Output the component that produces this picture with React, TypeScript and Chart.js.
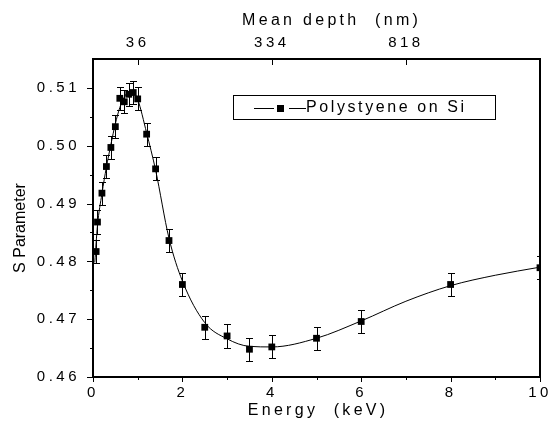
import React, { useEffect, useRef } from 'react';
import { Chart, registerables } from 'chart.js';
Chart.register(...registerables);

// Measured data (energy in keV, S parameter, error)
const energies = [0.07, 0.1, 0.2, 0.3, 0.4, 0.5, 0.6, 0.7, 0.8, 0.9, 1.0, 1.2, 1.4, 1.7, 2.0, 2.5, 3.0, 3.5, 4.0, 5.0, 6.0, 8.0, 10.0];
const sValues = [0.4817, 0.4868, 0.4918, 0.4964, 0.4997, 0.5033, 0.5082, 0.5076, 0.5089, 0.5092, 0.5081, 0.502, 0.496, 0.4836, 0.476, 0.4686, 0.4671, 0.4648, 0.4652, 0.4667, 0.4696, 0.476, 0.4789];
const sErrors = [0.002, 0.002, 0.002, 0.002, 0.002, 0.002, 0.002, 0.002, 0.002, 0.002, 0.002, 0.002, 0.002, 0.002, 0.002, 0.002, 0.002, 0.002, 0.002, 0.002, 0.002, 0.002, 0.002];

// Fitted curve
const fitEnergies = [0.04, 0.1, 0.2, 0.3, 0.4, 0.5, 0.6, 0.7, 0.8, 0.9, 1.0, 1.2, 1.4, 1.7, 2.0, 2.5, 3.0, 3.5, 4.0, 5.0, 6.0, 7.0, 8.0, 9.0, 10.0];
const fitValues = [0.4798, 0.4862, 0.4917, 0.4963, 0.5002, 0.5038, 0.5066, 0.5084, 0.5093, 0.5092, 0.508, 0.5022, 0.4958, 0.484, 0.4766, 0.4694, 0.4666, 0.4653, 0.4652, 0.4667, 0.4697, 0.4731, 0.4758, 0.4776, 0.479];

// Axis ticks
const xTickValues = [0, 2, 4, 6, 8, 10];
const xMinorTicks = [1, 3, 5, 7, 9];
const yTickValues = [0.46, 0.47, 0.48, 0.49, 0.5, 0.51];
const yMinorTicks = [0.465, 0.475, 0.485, 0.495, 0.505];
const topTickEnergies = [1, 4, 7];
const topTickLabels = ['36', '334', '818'];

const seriesLabel = 'Polystyene on Si';
const xTitle = 'Energy  (keV)';
const topTitle = 'Mean depth  (nm)';
const yTitle = 'S Parameter';

const FONT = "'Liberation Sans', Arial, sans-serif";
const LS = '3.5px';

const customPlugin = {
  id: 'custom',
  beforeUpdate(chart: any) {
    chart.ctx.letterSpacing = LS;
  },
  beforeDraw(chart: any) {
    chart.ctx.letterSpacing = LS;
  },
  beforeDatasetsDraw(chart: any) {
    const { ctx, chartArea: a, scales } = chart;
    const xs = scales.x;
    const ys = scales.y;
    ctx.save();
    ctx.beginPath();
    ctx.rect(a.left, a.top, a.right - a.left, a.bottom - a.top);
    ctx.clip();
    ctx.strokeStyle = '#000';
    ctx.lineWidth = 1;
    ctx.beginPath();
    for (let i = 0; i < energies.length; i++) {
      const x = Math.round(xs.getPixelForValue(energies[i])) + 0.5;
      const yt = Math.round(ys.getPixelForValue(sValues[i] + sErrors[i])) + 0.5;
      const yb = Math.round(ys.getPixelForValue(sValues[i] - sErrors[i])) + 0.5;
      ctx.moveTo(x, yt);
      ctx.lineTo(x, yb);
      ctx.moveTo(x - 3.5, yt);
      ctx.lineTo(x + 3.5, yt);
      ctx.moveTo(x - 3.5, yb);
      ctx.lineTo(x + 3.5, yb);
    }
    ctx.stroke();
    ctx.restore();
  },
  afterDraw(chart: any) {
    const { ctx, chartArea: a, scales } = chart;
    const xs = scales.x;
    const ys = scales.y;
    ctx.save();
    ctx.strokeStyle = '#000';
    ctx.fillStyle = '#000';
    // frame
    ctx.lineWidth = 2;
    ctx.strokeRect(a.left, a.top, a.right - a.left, a.bottom - a.top);
    // ticks
    ctx.lineWidth = 1;
    ctx.beginPath();
    xTickValues.forEach((v) => {
      const x = Math.round(xs.getPixelForValue(v)) + 0.5;
      ctx.moveTo(x, a.bottom);
      ctx.lineTo(x, a.bottom + 5);
    });
    xMinorTicks.forEach((v) => {
      const x = Math.round(xs.getPixelForValue(v)) + 0.5;
      ctx.moveTo(x, a.bottom);
      ctx.lineTo(x, a.bottom + 3);
    });
    yTickValues.forEach((v) => {
      const y = Math.round(ys.getPixelForValue(v)) + 0.5;
      ctx.moveTo(a.left, y);
      ctx.lineTo(a.left - 6, y);
    });
    yMinorTicks.forEach((v) => {
      const y = Math.round(ys.getPixelForValue(v)) + 0.5;
      ctx.moveTo(a.left, y);
      ctx.lineTo(a.left - 3, y);
    });
    topTickEnergies.forEach((v) => {
      const x = Math.round(xs.getPixelForValue(v)) + 0.5;
      ctx.moveTo(x, a.top);
      ctx.lineTo(x, a.top + 6);
    });
    ctx.stroke();

    // titles
    ctx.font = `16px ${FONT}`;
    ctx.letterSpacing = '3.3px';
    ctx.textAlign = 'center';
    ctx.textBaseline = 'middle';
    ctx.fillText(xTitle, (a.left + a.right) / 2 + 1.6, 411);
    ctx.fillText(topTitle, 331.6, 21);

    ctx.letterSpacing = '0px';
    ctx.save();
    ctx.translate(21, 228);
    ctx.rotate(-Math.PI / 2);
    ctx.fillText(yTitle, 0, 0);
    ctx.restore();

    // legend
    ctx.lineWidth = 1;
    ctx.strokeRect(233.5, 95.5, 262, 24);
    ctx.beginPath();
    ctx.moveTo(254, 108.5);
    ctx.lineTo(274, 108.5);
    ctx.moveTo(289, 108.5);
    ctx.lineTo(306, 108.5);
    ctx.stroke();
    ctx.fillRect(277, 105, 7, 7);
    ctx.letterSpacing = '2.6px';
    ctx.textAlign = 'left';
    ctx.fillText(seriesLabel, 306, 108);
    ctx.restore();
    ctx.letterSpacing = LS;
  },
};

export default function App() {
  const ref = useRef<HTMLCanvasElement>(null);
  useEffect(() => {
    const canvas = ref.current!;
    Chart.defaults.font.family = FONT;
    Chart.defaults.color = '#000';
    const chart = new Chart(canvas, {
      type: 'scatter',
      data: {
        datasets: [
          {
            label: seriesLabel,
            data: energies.map((e, i) => ({ x: e, y: sValues[i] })),
            showLine: false,
            pointStyle: 'rect',
            pointRadius: 4.8,
            pointHoverRadius: 4.8,
            pointBackgroundColor: '#000',
            pointBorderColor: '#000',
            pointBorderWidth: 0,
            xAxisID: 'x',
            yAxisID: 'y',
          },
          {
            label: 'fit',
            data: fitEnergies.map((e, i) => ({ x: e, y: fitValues[i] })),
            showLine: true,
            pointRadius: 0,
            borderColor: '#000',
            borderWidth: 1,
            cubicInterpolationMode: 'monotone',
            xAxisID: 'x',
            yAxisID: 'y',
          },
        ],
      },
      options: {
        animation: false,
        responsive: false,
        events: [],
        layout: { padding: { left: 0, right: 8, top: 0, bottom: 0 } },
        plugins: { legend: { display: false }, tooltip: { enabled: false } },
        scales: {
          x: {
            type: 'linear',
            position: 'bottom',
            min: 0,
            max: 10,
            afterBuildTicks: (s: any) => {
              s.ticks = xTickValues.map((v) => ({ value: v }));
            },
            ticks: {
              callback: (v: any) => String(v),
              font: { size: 15 },
              color: '#000',
              padding: 3,
              maxRotation: 0,
              autoSkip: false,
            },
            grid: { display: false, drawTicks: true, tickLength: 4 },
            border: { display: false },
            afterFit: (s: any) => {
              s.height = 47;
              s.paddingLeft = 0;
              s.paddingRight = 0;
            },
          },
          x2: {
            type: 'linear',
            position: 'top',
            min: 0,
            max: 10,
            afterBuildTicks: (s: any) => {
              s.ticks = topTickEnergies.map((v) => ({ value: v }));
            },
            ticks: {
              callback: (v: any, i: number) => topTickLabels[i],
              font: { size: 15 },
              color: '#000',
              padding: 3,
              maxRotation: 0,
              autoSkip: false,
            },
            grid: { display: false, drawTicks: true, tickLength: 4 },
            border: { display: false },
            afterFit: (s: any) => {
              s.height = 59;
              s.paddingLeft = 0;
              s.paddingRight = 0;
            },
          },
          y: {
            type: 'linear',
            position: 'left',
            min: 0.46,
            max: 0.515,
            afterBuildTicks: (s: any) => {
              s.ticks = yTickValues.map((v) => ({ value: v }));
            },
            ticks: {
              callback: (v: any) => Number(v).toFixed(2),
              font: { size: 15 },
              color: '#000',
              padding: 7,
              autoSkip: false,
            },
            grid: { display: false, drawTicks: true, tickLength: 6 },
            border: { display: false },
            afterFit: (s: any) => {
              s.width = 93;
              s.paddingTop = 0;
              s.paddingBottom = 0;
            },
          },
        },
      },
      plugins: [customPlugin],
    } as any);
    return () => chart.destroy();
  }, []);
  return (
    <div style={{ position: 'fixed', left: 0, top: 0, width: 548, height: 424, background: '#fff' }}>
      <canvas ref={ref} width={548} height={424} style={{ display: 'block', width: 548, height: 424 }} />
    </div>
  );
}
